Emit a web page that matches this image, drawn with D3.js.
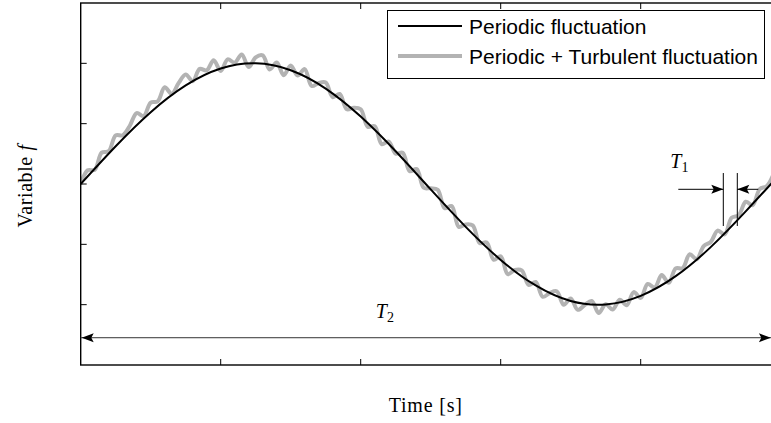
<!DOCTYPE html>
<html>
<head>
<meta charset="utf-8">
<script src="https://cdn.jsdelivr.net/npm/d3@7"></script>
<style>
  body { margin: 0; background: #fff; }
  svg { display: block; }
</style>
</head>
<body>
<svg id="chart" width="771" height="423"></svg>
<script>
// time axis (arbitrary units), one tick every unit
const xTicks = [1, 2, 3, 4]
const yTicks = [-1, -0.5, 0, 0.5, 1]

// periodic signal, sampled every 0.25
const periodicTime = [0, 0.25, 0.5, 0.75, 1, 1.25, 1.5, 1.75, 2, 2.25, 2.5,
  2.75, 3, 3.25, 3.5, 3.75, 4, 4.25, 4.5, 4.75, 5]
const periodicValues = [0, 0.313, 0.595, 0.817, 0.957, 1.0, 0.943, 0.791, 0.559, 0.271, -0.045,
  -0.355, -0.629, -0.841, -0.970, -0.998, -0.927, -0.764, -0.523, -0.227, 0.089]

// periodic + turbulent signal, sampled every 0.05
const turbulentStep = 0.05
const turbulentValues = [
  0.000, 0.114, 0.117, 0.260, 0.272, 0.403, 0.403, 0.481, 0.588, 0.563,
  0.675, 0.685, 0.802, 0.747, 0.838, 0.907, 0.852, 0.954, 0.942, 1.026,
  0.937, 1.033, 1.006, 1.074, 0.969, 1.050, 1.066, 0.949, 1.007, 0.902,
  0.983, 0.899, 0.952, 0.812, 0.837, 0.841, 0.720, 0.746, 0.620, 0.631,
  0.619, 0.475, 0.479, 0.331, 0.352, 0.251, 0.259, 0.106, 0.123, -0.031,
  -0.035, -0.048, -0.201, -0.183, -0.355, -0.335, -0.343, -0.490, -0.485, -0.628,
  -0.599, -0.747, -0.713, -0.716, -0.836, -0.812, -0.935, -0.904, -0.889, -1.001,
  -0.949, -1.043, -1.003, -0.969, -1.070, -0.997, -1.041, -0.960, -1.005, -0.896,
  -0.944, -0.828, -0.858, -0.755, -0.819, -0.699, -0.697, -0.582, -0.624, -0.514,
  -0.481, -0.386, -0.418, -0.279, -0.259, -0.147, -0.175, -0.042, -0.018, 0.085
]

// annotations: long period T2 and turbulent scale T1
const T2 = [0, 4.93]
const T2Level = -1.274
const T1 = [4.59, 4.69]
const T1Level = -0.044
const T1Span = [0.091, -0.348]

const legendLabels = ['Periodic fluctuation', 'Periodic + Turbulent fluctuation']

const svg = d3.select('#chart')
const margin = { top: 3, left: 80.7 }
const plotW = 700
const plotH = 362

const x = d3.scaleLinear().domain([0, 5]).range([margin.left, margin.left + plotW])
const y = d3.scaleLinear().domain([-1.5, 1.5]).range([margin.top + plotH, margin.top])

const serif = '"Liberation Serif", "DejaVu Serif", serif'
const sans = '"Liberation Sans", Arial, sans-serif'

svg.append('defs').append('clipPath').attr('id', 'plot-clip')
  .append('rect')
  .attr('x', x(0)).attr('y', y(1.5))
  .attr('width', plotW).attr('height', plotH)

let plot = svg.append('g').attr('clip-path', 'url(#plot-clip)')

let line = d3.line().x(d => x(d[0])).y(d => y(d[1]))

plot.append('path')
  .datum(turbulentValues.map((v, i) => [i * turbulentStep, v]))
  .attr('d', line.curve(d3.curveCatmullRom))
  .attr('fill', 'none')
  .attr('stroke', '#b3b3b3')
  .attr('stroke-width', 4)
  .attr('stroke-linejoin', 'round')

plot.append('path')
  .datum(periodicTime.map((t, i) => [t, periodicValues[i]]))
  .attr('d', line.curve(d3.curveNatural))
  .attr('fill', 'none')
  .attr('stroke', '#000')
  .attr('stroke-width', 2)

// frame with inward ticks on all sides
let tickLen = 6
let axes = svg.append('g').attr('stroke', '#000').attr('stroke-width', 1)
axes.selectAll('.xt').data(xTicks).join('line')
  .attr('x1', d => x(d)).attr('x2', d => x(d))
  .attr('y1', y(-1.5)).attr('y2', y(-1.5) - tickLen)
axes.selectAll('.xtt').data(xTicks).join('line')
  .attr('x1', d => x(d)).attr('x2', d => x(d))
  .attr('y1', y(1.5)).attr('y2', y(1.5) + tickLen)
axes.selectAll('.yt').data(yTicks).join('line')
  .attr('y1', d => y(d)).attr('y2', d => y(d))
  .attr('x1', x(0)).attr('x2', x(0) + tickLen)
axes.selectAll('.ytr').data(yTicks).join('line')
  .attr('y1', d => y(d)).attr('y2', d => y(d))
  .attr('x1', x(5)).attr('x2', x(5) - tickLen)

svg.append('rect')
  .attr('x', x(0)).attr('y', y(1.5))
  .attr('width', plotW).attr('height', plotH)
  .attr('fill', 'none').attr('stroke', '#000').attr('stroke-width', 1.4)

// arrowheads
function arrowHead (tipX, tipY, dir) {
  let len = 12
  let half = 4.5
  svg.append('path')
    .attr('d', `M${tipX},${tipY}L${tipX - dir * len},${tipY - half}L${tipX - dir * len * 0.8},${tipY}L${tipX - dir * len},${tipY + half}Z`)
    .attr('fill', '#000')
}

// T2 arrow
svg.append('line')
  .attr('x1', x(T2[0])).attr('x2', x(T2[1]))
  .attr('y1', y(T2Level)).attr('y2', y(T2Level))
  .attr('stroke', '#333').attr('stroke-width', 1)
arrowHead(x(T2[0]) + 1, y(T2Level), -1)
arrowHead(x(T2[1]), y(T2Level), 1)

svg.append('text')
  .attr('x', x((T2[0] + T2[1]) / 2) - 50).attr('y', y(T2Level) - 20)
  .attr('font-family', serif).attr('font-size', 20)
  .html('<tspan font-style="italic">T</tspan><tspan font-size="14" dy="4">2</tspan>')

// T1 markers
let t1g = svg.append('g').attr('stroke', '#000').attr('stroke-width', 1)
T1.forEach(t => {
  t1g.append('line')
    .attr('x1', x(t)).attr('x2', x(t))
    .attr('y1', y(T1Span[0])).attr('y2', y(T1Span[1]))
})
t1g.append('line')
  .attr('x1', x(T1[0]) - 45).attr('x2', x(T1[0]))
  .attr('y1', y(T1Level)).attr('y2', y(T1Level))
t1g.append('line')
  .attr('x1', x(T1[1]) + 21).attr('x2', x(T1[1]))
  .attr('y1', y(T1Level)).attr('y2', y(T1Level))
arrowHead(x(T1[0]), y(T1Level), 1)
arrowHead(x(T1[1]), y(T1Level), -1)

svg.append('text')
  .attr('x', x(T1[0]) - 53).attr('y', y(T1Level) - 21)
  .attr('font-family', serif).attr('font-size', 20)
  .html('<tspan font-style="italic">T</tspan><tspan font-size="14" dy="4">1</tspan>')

// legend
let legend = svg.append('g')
legend.append('rect')
  .attr('x', 387.5).attr('y', 10.5).attr('width', 377).attr('height', 68)
  .attr('fill', '#fff').attr('stroke', '#000').attr('stroke-width', 1)
let legendColors = ['#000', '#b3b3b3']
let legendWidths = [2, 4]
legendLabels.forEach((label, i) => {
  let cy = 26 + i * 30
  legend.append('line')
    .attr('x1', 398).attr('x2', 462).attr('y1', cy).attr('y2', cy)
    .attr('stroke', legendColors[i]).attr('stroke-width', legendWidths[i])
  legend.append('text')
    .attr('x', 469).attr('y', cy + 7.5)
    .attr('font-family', sans).attr('font-size', 21)
    .text(label)
})

// axis labels
svg.append('text')
  .attr('x', x(2.5) - 5).attr('y', 412)
  .attr('text-anchor', 'middle')
  .attr('font-family', serif).attr('font-size', 20)
  .attr('letter-spacing', 0.8)
  .text('Time [s]')

svg.append('text')
  .attr('transform', `translate(32,${y(0) + 2}) rotate(-90)`)
  .attr('text-anchor', 'middle')
  .attr('font-family', serif).attr('font-size', 20)
  .attr('letter-spacing', 0.6)
  .html('Variable <tspan font-style="italic">f</tspan>')
</script>
</body>
</html>
